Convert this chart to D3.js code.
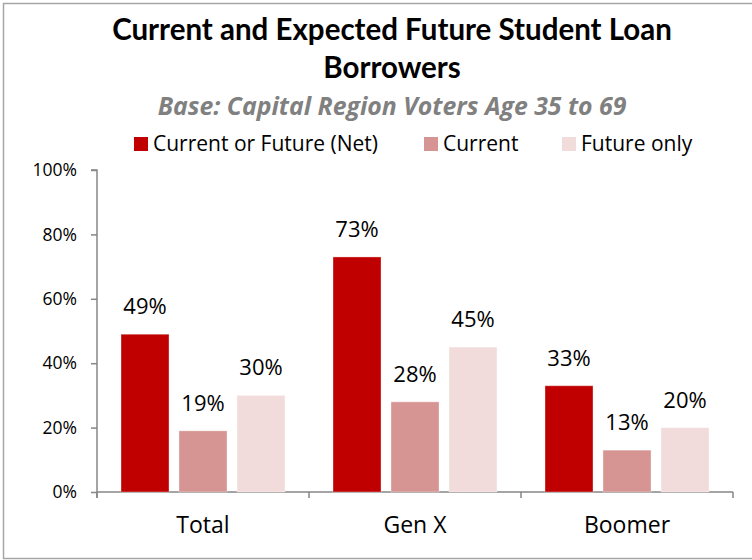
<!DOCTYPE html>
<html>
<head>
<meta charset="utf-8">
<script src="https://cdn.jsdelivr.net/npm/d3@7"></script>
<style>
  html, body { margin: 0; padding: 0; background: #fff; }
  svg { display: block; font-family: "Open Sans", Lato, sans-serif; }
</style>
</head>
<body>
<svg id="chart" width="752" height="560"></svg>
<script>
// Student loan borrowers by generation
const categories = ["Total", "Gen X", "Boomer"];
const seriesNames = ["Current or Future (Net)", "Current", "Future only"];
const seriesColors = ["#C00000", "#D69593", "#F2DCDB"];
const netValues = [49, 73, 33];
const currentValues = [19, 28, 13];
const futureOnlyValues = [30, 45, 20];
const yTicks = [0, 20, 40, 60, 80, 100];

const seriesValues = [netValues, currentValues, futureOnlyValues];

const svg = d3.select("#chart");

// Outer chart frame (right edge runs past the canvas)
svg.append("rect")
  .attr("x", 3.5).attr("y", 3.5)
  .attr("width", 760).attr("height", 555)
  .attr("fill", "#fff")
  .attr("stroke", "#a6a6a6")
  .attr("stroke-width", 1.5);

// Titles
svg.append("text")
  .attr("x", 392).attr("y", 40)
  .attr("text-anchor", "middle")
  .attr("font-family", "Lato, sans-serif")
  .attr("font-size", 29.5).attr("font-weight", "bold")
  .attr("fill", "#000")
  .text("Current and Expected Future Student Loan");
svg.append("text")
  .attr("x", 392).attr("y", 78)
  .attr("text-anchor", "middle")
  .attr("font-family", "Lato, sans-serif")
  .attr("font-size", 29.5).attr("font-weight", "bold")
  .attr("fill", "#000")
  .text("Borrowers");
svg.append("text")
  .attr("x", 392).attr("y", 115)
  .attr("text-anchor", "middle")
  .attr("font-size", 24.8).attr("font-weight", "bold").attr("font-style", "italic")
  .attr("fill", "#808080")
  .text("Base: Capital Region Voters Age 35 to 69");

// Legend
const legendX = [134, 424, 562];
const legend = svg.append("g");
seriesNames.forEach((name, i) => {
  const g = legend.append("g").attr("transform", `translate(${legendX[i]},137)`);
  g.append("rect").attr("width", 14).attr("height", 14).attr("fill", seriesColors[i]);
  g.append("text")
    .attr("x", 19).attr("y", 14)
    .attr("font-size", 21)
    .attr("fill", "#000")
    .text(name);
});

// Scales
const plot = { left: 97, right: 733, top: 170, bottom: 492 };
const x0 = d3.scaleBand().domain(categories).range([plot.left, plot.right]).padding(0);
const x1 = d3.scaleBand().domain(d3.range(seriesNames.length))
  .range([24, x0.bandwidth() - 24]).paddingInner(0.172).paddingOuter(0);
const y = d3.scaleLinear().domain([0, 100]).range([plot.bottom, plot.top]);

// Y axis
const yAxis = svg.append("g")
  .attr("transform", `translate(${plot.left},0)`)
  .call(d3.axisLeft(y).tickValues(yTicks).tickFormat(d => d + "%").tickSize(6).tickPadding(14));
yAxis.select(".domain").attr("d", `M-6,${plot.top}H0V${plot.bottom + 6}`);
yAxis.selectAll("line, path").attr("stroke", "#868686").attr("stroke-width", 1.5);
yAxis.selectAll("text").attr("font-size", 17.5).attr("fill", "#000")
  .attr("font-family", "'Open Sans', Lato, sans-serif");

// X axis with category boundary ticks
const xAxisG = svg.append("g");
xAxisG.append("line")
  .attr("x1", plot.left).attr("x2", plot.right)
  .attr("y1", y(0)).attr("y2", y(0))
  .attr("stroke", "#868686").attr("stroke-width", 1.5);
const boundaries = categories.map(c => x0(c) + x0.bandwidth()).concat([plot.left]);
xAxisG.selectAll("line.tick").data(boundaries).join("line")
  .attr("class", "tick")
  .attr("x1", d => d).attr("x2", d => d)
  .attr("y1", y(0)).attr("y2", y(0) + 6)
  .attr("stroke", "#868686").attr("stroke-width", 1.5);
xAxisG.selectAll("text").data(categories).join("text")
  .attr("x", d => x0(d) + x0.bandwidth() / 2)
  .attr("y", 533)
  .attr("text-anchor", "middle")
  .attr("font-size", 23).attr("fill", "#000")
  .text(d => d);

// Bars and value labels
const groups = svg.append("g").selectAll("g").data(categories).join("g")
  .attr("transform", d => `translate(${x0(d)},0)`);

groups.each(function(cat, ci) {
  const g = d3.select(this);
  seriesValues.forEach((vals, si) => {
    const v = vals[ci];
    g.append("rect")
      .attr("x", x1(si)).attr("width", x1.bandwidth())
      .attr("y", y(v)).attr("height", y(0) - y(v))
      .attr("fill", seriesColors[si])
      .attr("stroke", "rgba(255,255,255,0.35)").attr("stroke-width", 1);
    g.append("text")
      .attr("x", x1(si) + x1.bandwidth() / 2)
      .attr("y", y(v) - 20)
      .attr("text-anchor", "middle")
      .attr("font-size", 22).attr("fill", "#000")
      .text(v + "%");
  });
});
</script>
</body>
</html>
